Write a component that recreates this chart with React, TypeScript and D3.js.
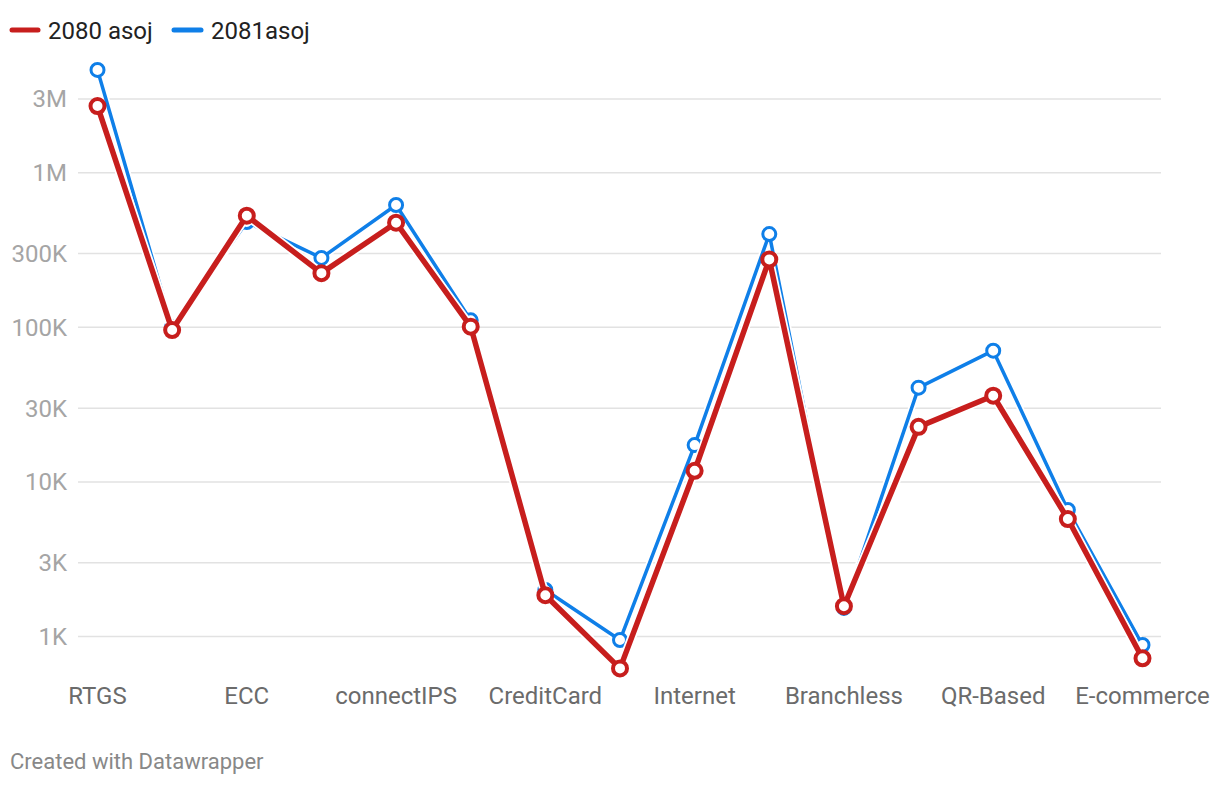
import React from "react";
import * as d3 from "d3";

const categories = [
  "RTGS", "Cheque", "ECC", "IPS", "connectIPS", "DebitCard", "CreditCard", "PrepaidCard",
  "Internet", "Mobile", "Branchless", "Wallet", "QR-Based", "POS", "E-commerce",
];
const series2080 = [2700000, 96000, 527000, 224000, 475000, 101000, 1850, 622, 11800, 275000, 1570, 22700, 36100, 5750, 723];
const series2081 = [4620000, 100500, 480000, 281000, 618000, 111000, 2000, 949, 17300, 401000, 1530, 40700, 70600, 6580, 881];
const yTicks = [1000, 3000, 10000, 30000, 100000, 300000, 1000000, 3000000];
const seriesNames = ["2080 asoj", "2081asoj"];

const W = 1220;
const H = 786;
const RED = "#c71e1d";
const BLUE = "#0f7fe8";

function fmt(v: number) {
  if (v >= 1e6) return `${v / 1e6}M`;
  if (v >= 1e3) return `${v / 1e3}K`;
  return `${v}`;
}

export default function App() {
  const x = d3.scalePoint<string>().domain(categories).range([97.5, 1142.5]);
  const y = d3.scaleLog().domain([1e5, 1e6]).range([327.3, 172.7]);
  const line = d3
    .line<number>()
    .x((_, i) => x(categories[i]) as number)
    .y((d) => y(d));

  const font = "Roboto, 'Noto Sans', sans-serif";

  return (
    <svg
      width={W}
      height={H}
      style={{ position: "absolute", left: 0, top: 0, background: "#fff" }}
      fontFamily={font}
    >
      <rect width={W} height={H} fill="#fff" />
      {/* legend */}
      <g>
        <line x1={12} x2={38} y1={30} y2={30} stroke={RED} strokeWidth={5} strokeLinecap="round" />
        <text x={48} y={38.5} fontSize={24} fill="#222">{seriesNames[0]}</text>
        <line x1={174} x2={201} y1={30} y2={30} stroke={BLUE} strokeWidth={5} strokeLinecap="round" />
        <text x={211} y={38.5} fontSize={24} fill="#222">{seriesNames[1]}</text>
      </g>
      {/* grid + y ticks */}
      <g>
        {yTicks.map((t) => (
          <g key={t}>
            <line x1={78} x2={1161} y1={y(t)} y2={y(t)} stroke="#e2e2e2" strokeWidth={1.5} />
            <text x={67} y={y(t)} dy="0.35em" textAnchor="end" fontSize={24} fill="#a5a5a5">
              {fmt(t)}
            </text>
          </g>
        ))}
      </g>
      {/* x labels */}
      <g>
        {categories.map((c, i) =>
          i % 2 === 0 ? (
            <text key={c} x={x(c)} y={704} textAnchor="middle" fontSize={24} fill="#6b6b6b">
              {c}
            </text>
          ) : null
        )}
      </g>
      {/* blue series */}
      <path d={line(series2081) || ""} fill="none" stroke="#fff" strokeWidth={7} strokeLinejoin="round" />
      <path d={line(series2081) || ""} fill="none" stroke={BLUE} strokeWidth={3.5} strokeLinejoin="round" />
      {series2081.map((v, i) => (
        <circle key={"b" + i} cx={x(categories[i])} cy={y(v)} r={6.5} fill="#fff" stroke={BLUE} strokeWidth={3} />
      ))}
      {/* red series */}
      <path d={line(series2080) || ""} fill="none" stroke="#fff" strokeWidth={9} strokeLinejoin="round" />
      <path d={line(series2080) || ""} fill="none" stroke={RED} strokeWidth={5.5} strokeLinejoin="round" />
      {series2080.map((v, i) => (
        <circle key={"r" + i} cx={x(categories[i])} cy={y(v)} r={7} fill="#fff" stroke={RED} strokeWidth={4} />
      ))}
      {/* footer */}
      <text x={10} y={769} fontSize={22} fill="#888">Created with Datawrapper</text>
    </svg>
  );
}
